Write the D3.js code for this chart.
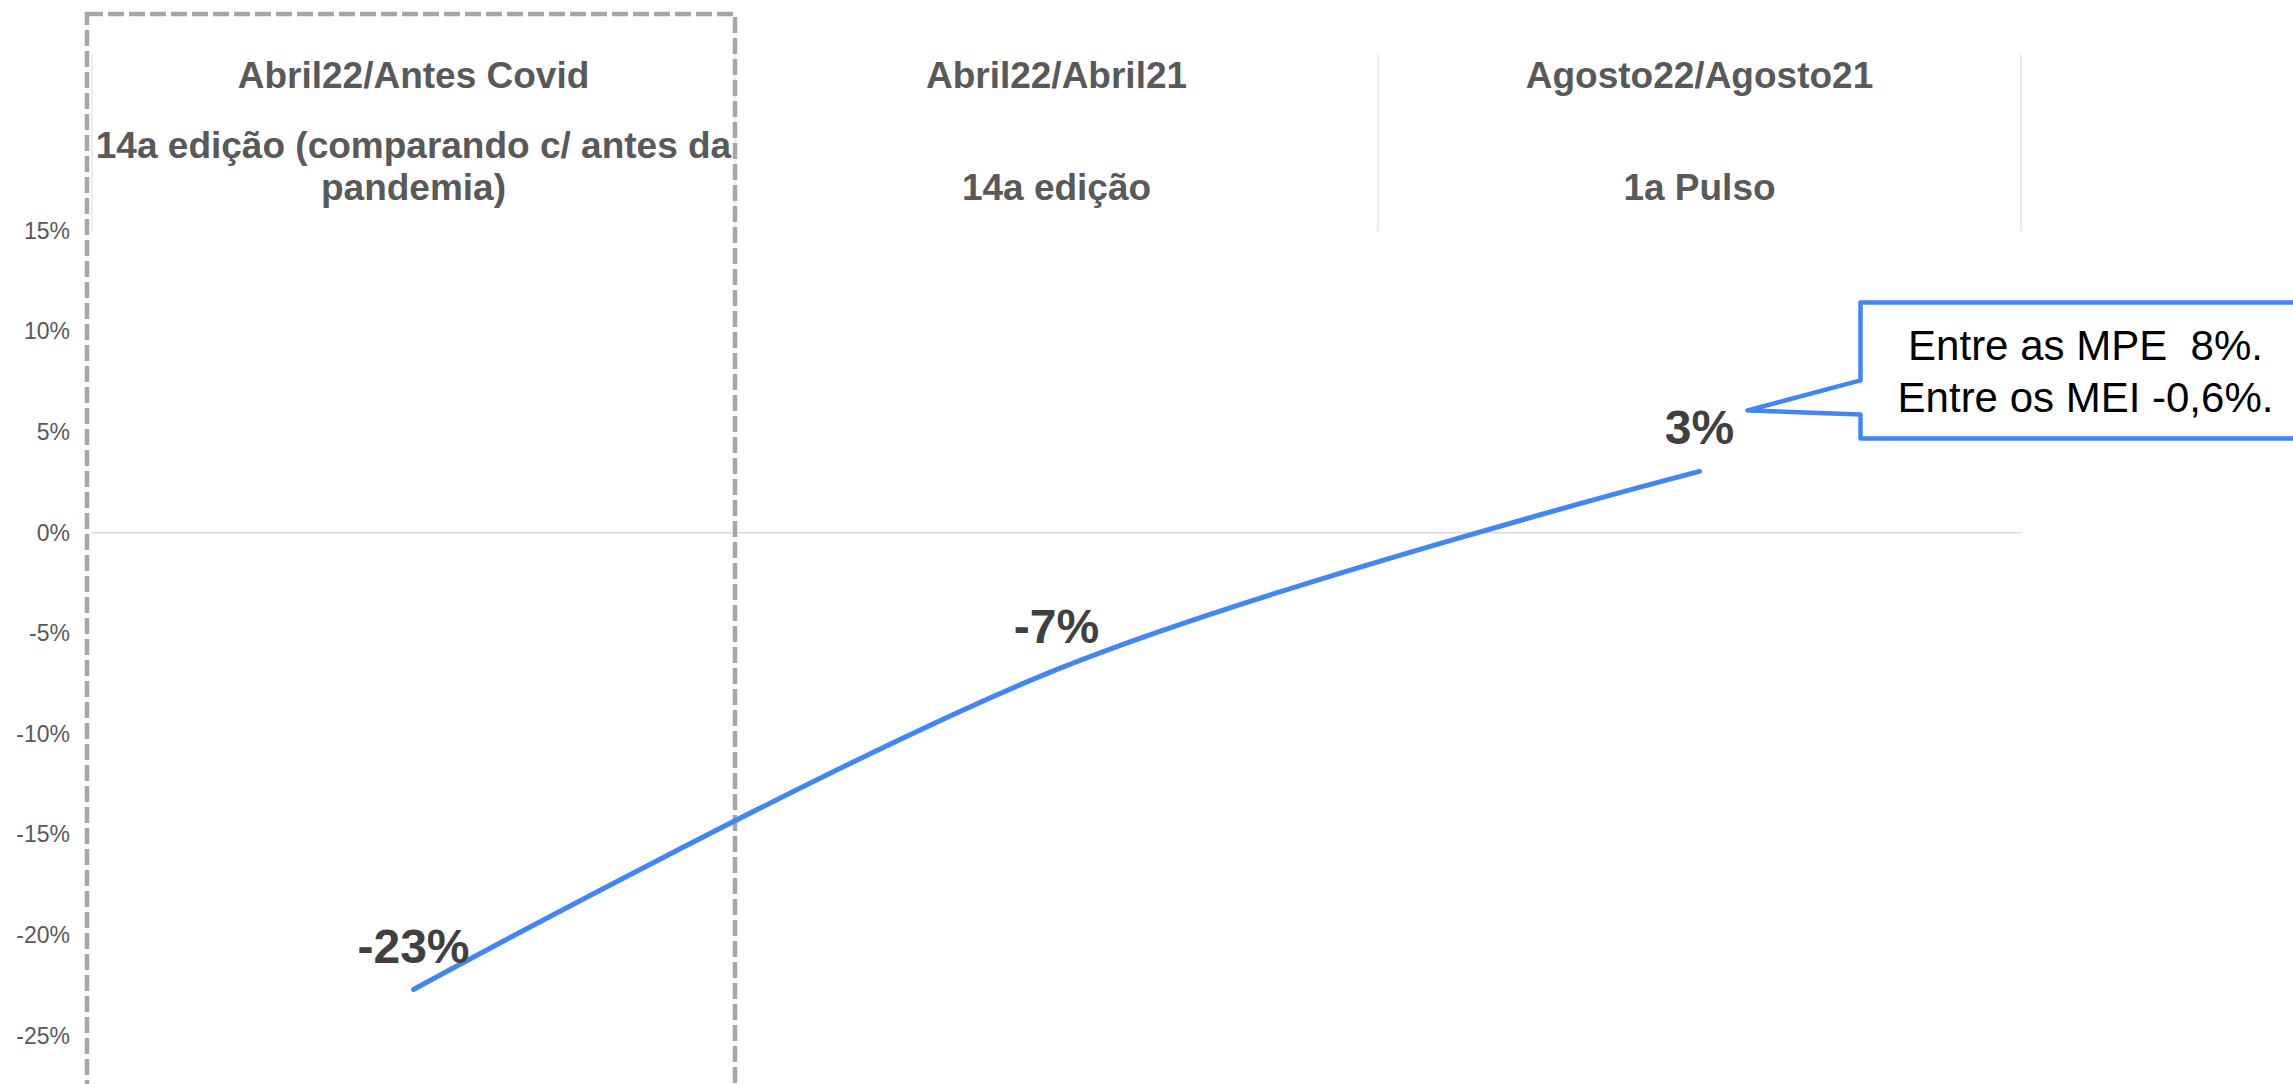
<!DOCTYPE html>
<html><head><meta charset="utf-8">
<script src="https://cdn.jsdelivr.net/npm/d3@7"></script>
<style>html,body{margin:0;padding:0;background:#fff;overflow:hidden}</style>
</head><body>
<svg id="chart" width="2293" height="1084"></svg>
<script>
// ---- data ----
const categories = ["Abril22/Antes Covid", "Abril22/Abril21", "Agosto22/Agosto21"];
const subtitles = [["14a edição (comparando c/ antes da", "pandemia)"], ["14a edição"], ["1a Pulso"]];
const values = [-22.7, -6.8, 3.05];
const yTicks = [15, 10, 5, 0, -5, -10, -15, -20, -25];
const calloutLines = ["Entre as MPE  8%.", "Entre os MEI -0,6%."];

// ---- setup ----
const W = 2293, H = 1084;
const FONT = "'Liberation Sans', Arial, Helvetica, sans-serif";
const svg = d3.select("#chart");
svg.append("rect").attr("width", W).attr("height", H).attr("fill", "#fff");

const x = d3.scaleBand().domain(categories).range([92, 2021]).padding(0);
const y = d3.scaleLinear().domain([-30, 15]).range([1136.4, 231]);
const cx = c => x(c) + x.bandwidth() / 2;
const pct = v => (Math.round(v) + "%");

// zero gridline
svg.append("line")
  .attr("x1", x.range()[0]).attr("x2", x.range()[1])
  .attr("y1", y(0)).attr("y2", y(0))
  .attr("stroke", "#D9D9D9").attr("stroke-width", 1.5);

// header separators
const edges = categories.map(c => x(c)).concat([x.range()[1]]);
svg.append("g").selectAll("line").data(edges).join("line")
  .attr("x1", d => d).attr("x2", d => d)
  .attr("y1", 54).attr("y2", y(15))
  .attr("stroke", "#D9D9D9").attr("stroke-width", 1);

// y axis
const yAxis = svg.append("g")
  .attr("transform", `translate(${x.range()[0]},0)`)
  .call(d3.axisLeft(y).tickValues(yTicks).tickFormat(d => d + "%").tickSize(0).tickPadding(22));
yAxis.select(".domain").remove();
yAxis.selectAll("text")
  .attr("font-family", FONT).attr("font-size", 23).attr("fill", "#595959");

// header labels
const hdr = svg.append("g").attr("font-family", FONT).attr("font-weight", "bold")
  .attr("font-size", 37).attr("fill", "#595959").attr("text-anchor", "middle");
hdr.selectAll("text.cat").data(categories).join("text").attr("class", "cat")
  .attr("x", d => cx(d)).attr("y", 88).text(d => d);
categories.forEach((c, i) => {
  const lines = subtitles[i];
  lines.forEach((ln, j) => {
    hdr.append("text")
      .attr("x", cx(c))
      .attr("y", 200 - (lines.length - 1 - j) * 42)
      .text(ln);
  });
});

// dashed highlight box around first category
const b0 = x(categories[0]);
svg.append("rect")
  .attr("x", b0 - 5).attr("y", 14)
  .attr("width", x.bandwidth() + 5).attr("height", 1300)
  .attr("fill", "none").attr("stroke", "#A6A6A6")
  .attr("stroke-width", 4.5).attr("stroke-dasharray", "16,5");

// line
const pts = categories.map((c, i) => ({ c, v: values[i] }));
const line = d3.line().x(d => cx(d.c)).y(d => y(d.v)).curve(d3.curveCardinal);
svg.append("path").datum(pts)
  .attr("d", line).attr("fill", "none")
  .attr("stroke", "#4285F4").attr("stroke-width", 5)
  .attr("stroke-linecap", "round").attr("stroke-linejoin", "round");

// data labels
svg.append("g").selectAll("text").data(pts).join("text")
  .attr("x", d => cx(d.c)).attr("y", d => y(d.v) - 27)
  .attr("text-anchor", "middle")
  .attr("font-family", FONT).attr("font-weight", "bold").attr("font-size", 48)
  .attr("fill", "#404040")
  .text(d => pct(d.v));

// callout
const last = pts[pts.length - 1];
const px = cx(last.c), py = y(last.v);
const L = px + 161, R = px + 611, T = py - 169, B = py - 33;
const tipX = px + 48, tipY = py - 61;
const path = d3.path();
path.moveTo(L, T); path.lineTo(R, T); path.lineTo(R, B); path.lineTo(L, B);
path.lineTo(L, py - 57); path.lineTo(tipX, tipY); path.lineTo(L, py - 91); path.closePath();
svg.append("path").attr("d", path.toString())
  .attr("fill", "#fff").attr("stroke", "#4285F4").attr("stroke-width", 4.5)
  .attr("stroke-linejoin", "round");
svg.append("g").selectAll("text").data(calloutLines).join("text")
  .attr("x", px + 386).attr("y", (d, i) => py - 111 + i * 52)
  .attr("text-anchor", "middle").style("white-space", "pre")
  .attr("font-family", FONT).attr("font-size", 42).attr("fill", "#000")
  .text(d => d);
</script>
</body></html>
